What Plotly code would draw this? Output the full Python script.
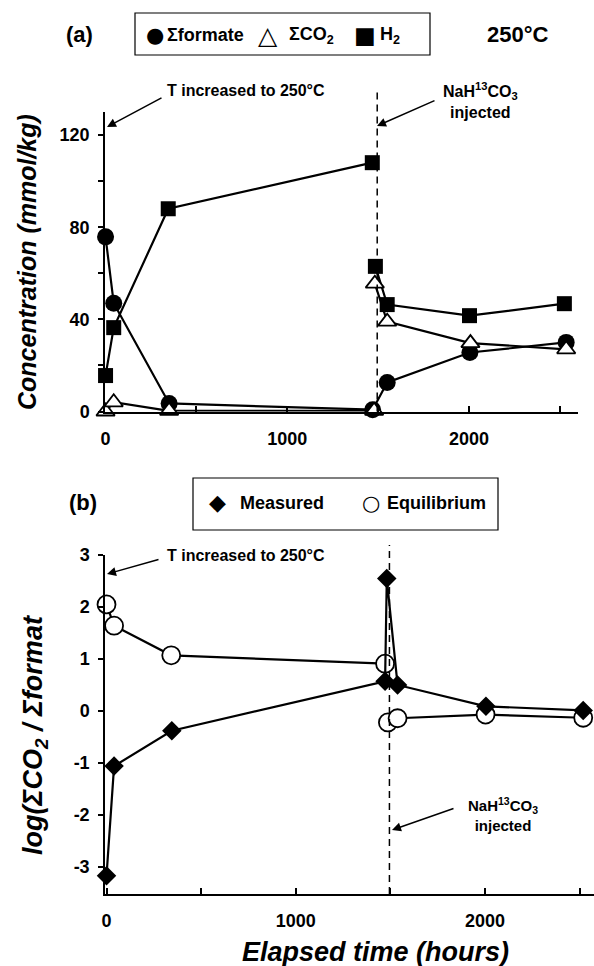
import plotly.graph_objects as go

W, H = 594, 966

# ---------------- Panel (a) data: concentrations (mmol/kg) ----------------
formate_time = [0, 45, 350, 1470, 1550, 2005, 2535]
formate = [75.8, 47.0, 3.5, 0.8, 12.6, 25.6, 30.0]

co2_time = [0, 45, 350, 1478, None, 1482, 1550, 2008, 2535]
co2 = [0.0, 4.0, 0.3, 0.3, None, 55.5, 39.0, 29.7, 27.0]

h2_time = [0, 45, 345, 1468, None, 1485, 1550, 2003, 2525]
h2 = [15.6, 36.4, 88.0, 108.0, None, 63.0, 46.4, 41.6, 46.8]

# ---------------- Panel (b) data: log(sumCO2 / sumformate) ----------------
meas_time = [0, 40, 345, 1472, 1481, 1538, 2005, 2519]
measured = [-3.17, -1.06, -0.38, 0.57, 2.55, 0.50, 0.09, 0.01]

eq_time = [0, 40, 342, 1472, None, 1487, 1538, 2003, 2519]
equilibrium = [2.05, 1.64, 1.07, 0.91, None, -0.22, -0.14, -0.07, -0.13]

injection_time_a = 1495
injection_time_b = 1495

xticks = [0, 1000, 2000]
yticks_a = [0, 40, 80, 120]
yticks_b = [-3, -2, -1, 0, 1, 2, 3]

FONT = "Liberation Sans, Arial, sans-serif"
SYMF = "DejaVu Sans"


def px(x):
    return x / W


def py(y):
    return 1 - y / H


line = dict(color="black", width=2.2)

fig = go.Figure()

fig.add_trace(go.Scatter(x=formate_time, y=formate, mode="lines+markers", line=line,
                         marker=dict(symbol="circle", size=17, color="black"),
                         cliponaxis=False, showlegend=False, xaxis="x", yaxis="y"))
fig.add_trace(go.Scatter(x=h2_time, y=h2, mode="lines+markers", line=line,
                         marker=dict(symbol="square", size=15, color="black"),
                         cliponaxis=False, showlegend=False, xaxis="x", yaxis="y"))
fig.add_trace(go.Scatter(x=co2_time, y=co2, mode="lines+markers", line=line,
                         marker=dict(symbol="triangle-up", size=16, color="white",
                                     line=dict(color="black", width=1.8)),
                         cliponaxis=False, showlegend=False, xaxis="x", yaxis="y"))

fig.add_trace(go.Scatter(x=eq_time, y=equilibrium, mode="lines+markers", line=line,
                         marker=dict(symbol="circle", size=18, color="white",
                                     line=dict(color="black", width=1.8)),
                         cliponaxis=False, showlegend=False, xaxis="x2", yaxis="y2"))
fig.add_trace(go.Scatter(x=meas_time, y=measured, mode="lines+markers", line=line,
                         marker=dict(symbol="diamond", size=15, color="black"),
                         cliponaxis=False, showlegend=False, xaxis="x2", yaxis="y2"))

tickfont = dict(family=FONT, size=18, color="black", weight="bold")
common_x = dict(showline=True, linecolor="black", linewidth=1.5, ticks="inside",
                ticklen=6, tickwidth=1.5, tickcolor="black",
                tickvals=xticks, ticktext=[f"<b>{v}</b>" for v in xticks],
                minor=dict(ticks="inside", ticklen=6, tickwidth=1.5, tickcolor="black",
                           tick0=0, dtick=500),
                showgrid=False, zeroline=False, tickfont=tickfont,
                ticklabelstandoff=10, automargin=False)
common_y = dict(showline=True, linecolor="black", linewidth=1.5, ticks="outside",
                ticklen=5, tickwidth=1.5, tickcolor="black",
                showgrid=False, zeroline=False, tickfont=tickfont,
                ticklabelstandoff=5, automargin=False)

fig.update_layout(
    width=W, height=H, autosize=False,
    margin=dict(l=0, r=0, t=0, b=0),
    paper_bgcolor="white", plot_bgcolor="white",
    font=dict(family=FONT, color="black"),
    showlegend=False,
    xaxis=dict(domain=[px(105), px(578)], anchor="y", range=[-3, 2600], **common_x),
    yaxis=dict(domain=[py(411.5), py(112)], anchor="x", range=[0, 130],
               tickvals=yticks_a, ticktext=[f"<b>{v}</b>" for v in yticks_a],
               minor=dict(ticks="outside", ticklen=5, tickwidth=1.5, tickcolor="black",
                          tick0=0, dtick=20),
               **common_y),
    xaxis2=dict(domain=[px(105), 1.0], anchor="y2", range=[-8, 2576], **common_x),
    yaxis2=dict(domain=[py(894), py(555)], anchor="x2", range=[-3.52, 3.0],
                tickvals=yticks_b, ticktext=[f"<b>{v}</b>" for v in yticks_b],
                **common_y),
)

# dashed injection lines
fig.add_shape(type="line", xref="x", yref="paper", x0=injection_time_a, x1=injection_time_a,
              y0=py(411.5), y1=py(88), line=dict(color="black", width=1.5, dash="7px,5px"))
fig.add_shape(type="line", xref="x2", yref="paper", x0=injection_time_b, x1=injection_time_b,
              y0=py(894), y1=py(545), line=dict(color="black", width=1.5, dash="7px,5px"))

# legend boxes
fig.add_shape(type="rect", xref="paper", yref="paper", x0=px(135), x1=px(430),
              y0=py(55), y1=py(13), line=dict(color="black", width=1.2))
fig.add_shape(type="rect", xref="paper", yref="paper", x0=px(193), x1=px(498),
              y0=py(530), y1=py(478), line=dict(color="black", width=1.2))


def text(x, y, s, size, xanchor="center", yanchor="middle", angle=0, family=FONT, bold=True,
         italic=False):
    fig.add_annotation(x=px(x), y=py(y), xref="paper", yref="paper", text=s,
                       showarrow=False, xanchor=xanchor, yanchor=yanchor, textangle=angle,
                       font=dict(family=family, size=size, color="black",
                                 weight="bold" if bold else "normal",
                                 style="italic" if italic else "normal"))


def arrow(tipx, tipy, tailx, taily):
    fig.add_annotation(x=px(tipx), y=py(tipy), xref="paper", yref="paper", text="",
                       showarrow=True, ax=tailx - tipx, ay=taily - tipy,
                       axref="pixel", ayref="pixel", arrowhead=2, arrowsize=1.2,
                       arrowwidth=1.5, arrowcolor="black", standoff=0)


# panel labels / header
text(79, 34, "(a)", 22)
text(518, 34, "250°C", 22)
text(83, 503, "(b)", 22)

# legend (a)
text(155, 35, "●", 21, family=SYMF, bold=False)
text(165, 35, "Σformate", 18, xanchor="left")
text(268, 35, "△", 25, family=SYMF, bold=False)
text(287, 36, "ΣCO<sub>2</sub>", 18, xanchor="left")
text(365, 35, "■", 23, family=SYMF, bold=False)
text(378, 36, "H<sub>2</sub>", 18, xanchor="left")

# legend (b)
text(217, 503, "◆", 22, family=SYMF, bold=False)
text(238, 503, "Measured", 18, xanchor="left")
text(371, 503, "○", 21, family=SYMF, bold=False)
text(385, 503, "Equilibrium", 18, xanchor="left")

# event annotations
text(165, 91, "T increased to 250°C", 16, xanchor="left")
arrow(107, 127, 163, 97)
text(480, 100, "NaH<sup>13</sup>CO<sub>3</sub><br>injected", 16)
arrow(377, 126, 436, 100)

text(165, 555, "T increased to 250°C", 16, xanchor="left")
arrow(107, 574, 160, 559)
text(503, 814, "NaH<sup>13</sup>CO<sub>3</sub><br>injected", 15)
arrow(392, 830, 455, 808)

# axis titles
text(27, 262, "Concentration (mmol/kg)", 25, angle=-90, italic=True)
text(35, 735, "log(ΣCO<sub>2</sub> / Σformat", 27, angle=-90, italic=True)
text(375, 952, "Elapsed time (hours)", 27, italic=True)

fig.write_html("out.html")
